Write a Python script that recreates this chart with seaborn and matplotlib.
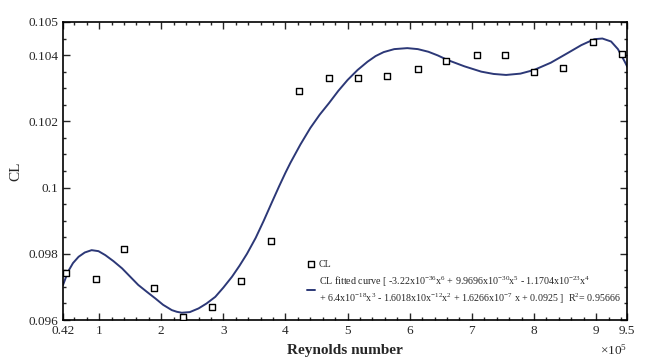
import numpy as np
import pandas as pd
import seaborn as sns
from matplotlib import pyplot as plt
from matplotlib.ticker import FixedLocator, MultipleLocator, FuncFormatter

# measured points (Reynolds number in units of 1e5)
re_pts = [0.47, 0.95, 1.40, 1.88, 2.35, 2.82, 3.29, 3.76, 4.22, 4.70,
          5.17, 5.64, 6.13, 6.59, 7.08, 7.54, 8.00, 8.47, 8.95, 9.42]
cl_pts = [0.09743, 0.09724, 0.09814, 0.09696, 0.09610, 0.09638, 0.09717, 0.09839, 0.10293, 0.10331,
          0.10331, 0.10337, 0.10357, 0.10382, 0.10401, 0.10401, 0.10350, 0.10362, 0.10441, 0.10403]

# fitted curve
re_fit = [0.42, 0.50, 0.58, 0.67, 0.77, 0.88, 0.99, 1.10, 1.23, 1.37,
          1.50, 1.63, 1.77, 1.90, 2.03, 2.17, 2.25, 2.33, 2.46, 2.60,
          2.73, 2.87, 3.00, 3.14, 3.26, 3.38, 3.52, 3.65, 3.78, 3.90,
          4.00, 4.08, 4.24, 4.40, 4.55, 4.70, 4.85, 5.00, 5.16, 5.32,
          5.45, 5.58, 5.75, 5.96, 6.13, 6.30, 6.45, 6.61, 6.88, 7.15,
          7.35, 7.55, 7.78, 8.00, 8.27, 8.54, 8.76, 8.97, 9.10, 9.24,
          9.35, 9.46, 9.50]
cl_fit = [0.09706, 0.09746, 0.09772, 0.09791, 0.09804, 0.09811, 0.09808, 0.09796, 0.09778, 0.09756,
          0.09731, 0.09706, 0.09685, 0.09666, 0.09646, 0.09630, 0.09625, 0.09622, 0.09624, 0.09635,
          0.09650, 0.09670, 0.09698, 0.09731, 0.09764, 0.09800, 0.09848, 0.09900, 0.09955, 0.10005,
          0.10045, 0.10075, 0.10130, 0.10180, 0.10220, 0.10255, 0.10292, 0.10325, 0.10355, 0.10380,
          0.10397, 0.10409, 0.10418, 0.10421, 0.10418, 0.10410, 0.10399, 0.10385, 0.10366, 0.10350,
          0.10343, 0.10340, 0.10344, 0.10355, 0.10377, 0.10406, 0.10430, 0.10448, 0.10450, 0.10441,
          0.10418, 0.10380, 0.10365]

x_ticks = [0.42, 1, 2, 3, 4, 5, 6, 7, 8, 9, 9.5]
y_ticks = [0.096, 0.098, 0.100, 0.102, 0.104, 0.105]

fit_label = ("CL fitted curve [ -3.22x10$^{-36}$x$^{6}$ + 9.9696x10$^{-30}$x$^{5}$ - 1.1704x10$^{-23}$x$^{4}$\n"
             "+ 6.4x10$^{-18}$x$^{3}$ - 1.6018x10x$^{-12}$x$^{2}$ + 1.6266x10$^{-7}$ x + 0.0925 ]  R$^{2}$= 0.95666")

sns.set_style("ticks")
plt.rcParams['font.family'] = ['Liberation Serif', 'DejaVu Serif']
plt.rcParams['mathtext.default'] = 'regular'

df_pts = pd.DataFrame({"re": re_pts, "cl": cl_pts})
df_fit = pd.DataFrame({"re": re_fit, "cl": cl_fit})

fig, ax = plt.subplots(figsize=(6.5, 3.6), dpi=100)
fig.subplots_adjust(left=0.097, right=0.965, top=0.939, bottom=0.111)

sns.lineplot(data=df_fit, x="re", y="cl", ax=ax, color="#2c3877", linewidth=1.4,
             label=fit_label, sort=False)
sns.scatterplot(data=df_pts, x="re", y="cl", ax=ax, marker="s", s=16,
                facecolor="white", edgecolor="black", linewidth=1.0, label="CL", zorder=3)

ax.set_xlim(0.42, 9.5)
ax.set_ylim(0.096, 0.105)
ax.xaxis.set_major_locator(FixedLocator(x_ticks))
ax.xaxis.set_minor_locator(MultipleLocator(0.2))
ax.yaxis.set_major_locator(FixedLocator(y_ticks))
ax.yaxis.set_minor_locator(MultipleLocator(0.0005))
ax.xaxis.set_major_formatter(FuncFormatter(lambda v, p: f"{v:g}"))
ax.yaxis.set_major_formatter(FuncFormatter(lambda v, p: f"{round(v, 4):g}"))

ax.tick_params(which="both", direction="in", top=True, right=True, labelsize=9.5, width=1.0)
ax.tick_params(which="major", length=5)
ax.tick_params(which="minor", length=2.5)
for s in ax.spines.values():
    s.set_visible(True)
    s.set_linewidth(1.2)
    s.set_color("black")

ax.set_xlabel("Reynolds number", fontsize=11, fontweight="bold", labelpad=5)
ax.set_ylabel("CL", fontsize=11, labelpad=4)
ax.text(1.0, -0.1, "×10$^{5}$", transform=ax.transAxes, ha="right", va="center", fontsize=9.5)

h, l = ax.get_legend_handles_labels()
ax.legend(h[::-1], l[::-1], loc="lower left", bbox_to_anchor=(0.42, 0.025), frameon=False,
          fontsize=7.2, handlelength=0.8, handletextpad=0.4, labelspacing=0.6, borderpad=0.2)

plt.savefig("out.png", dpi=100)
